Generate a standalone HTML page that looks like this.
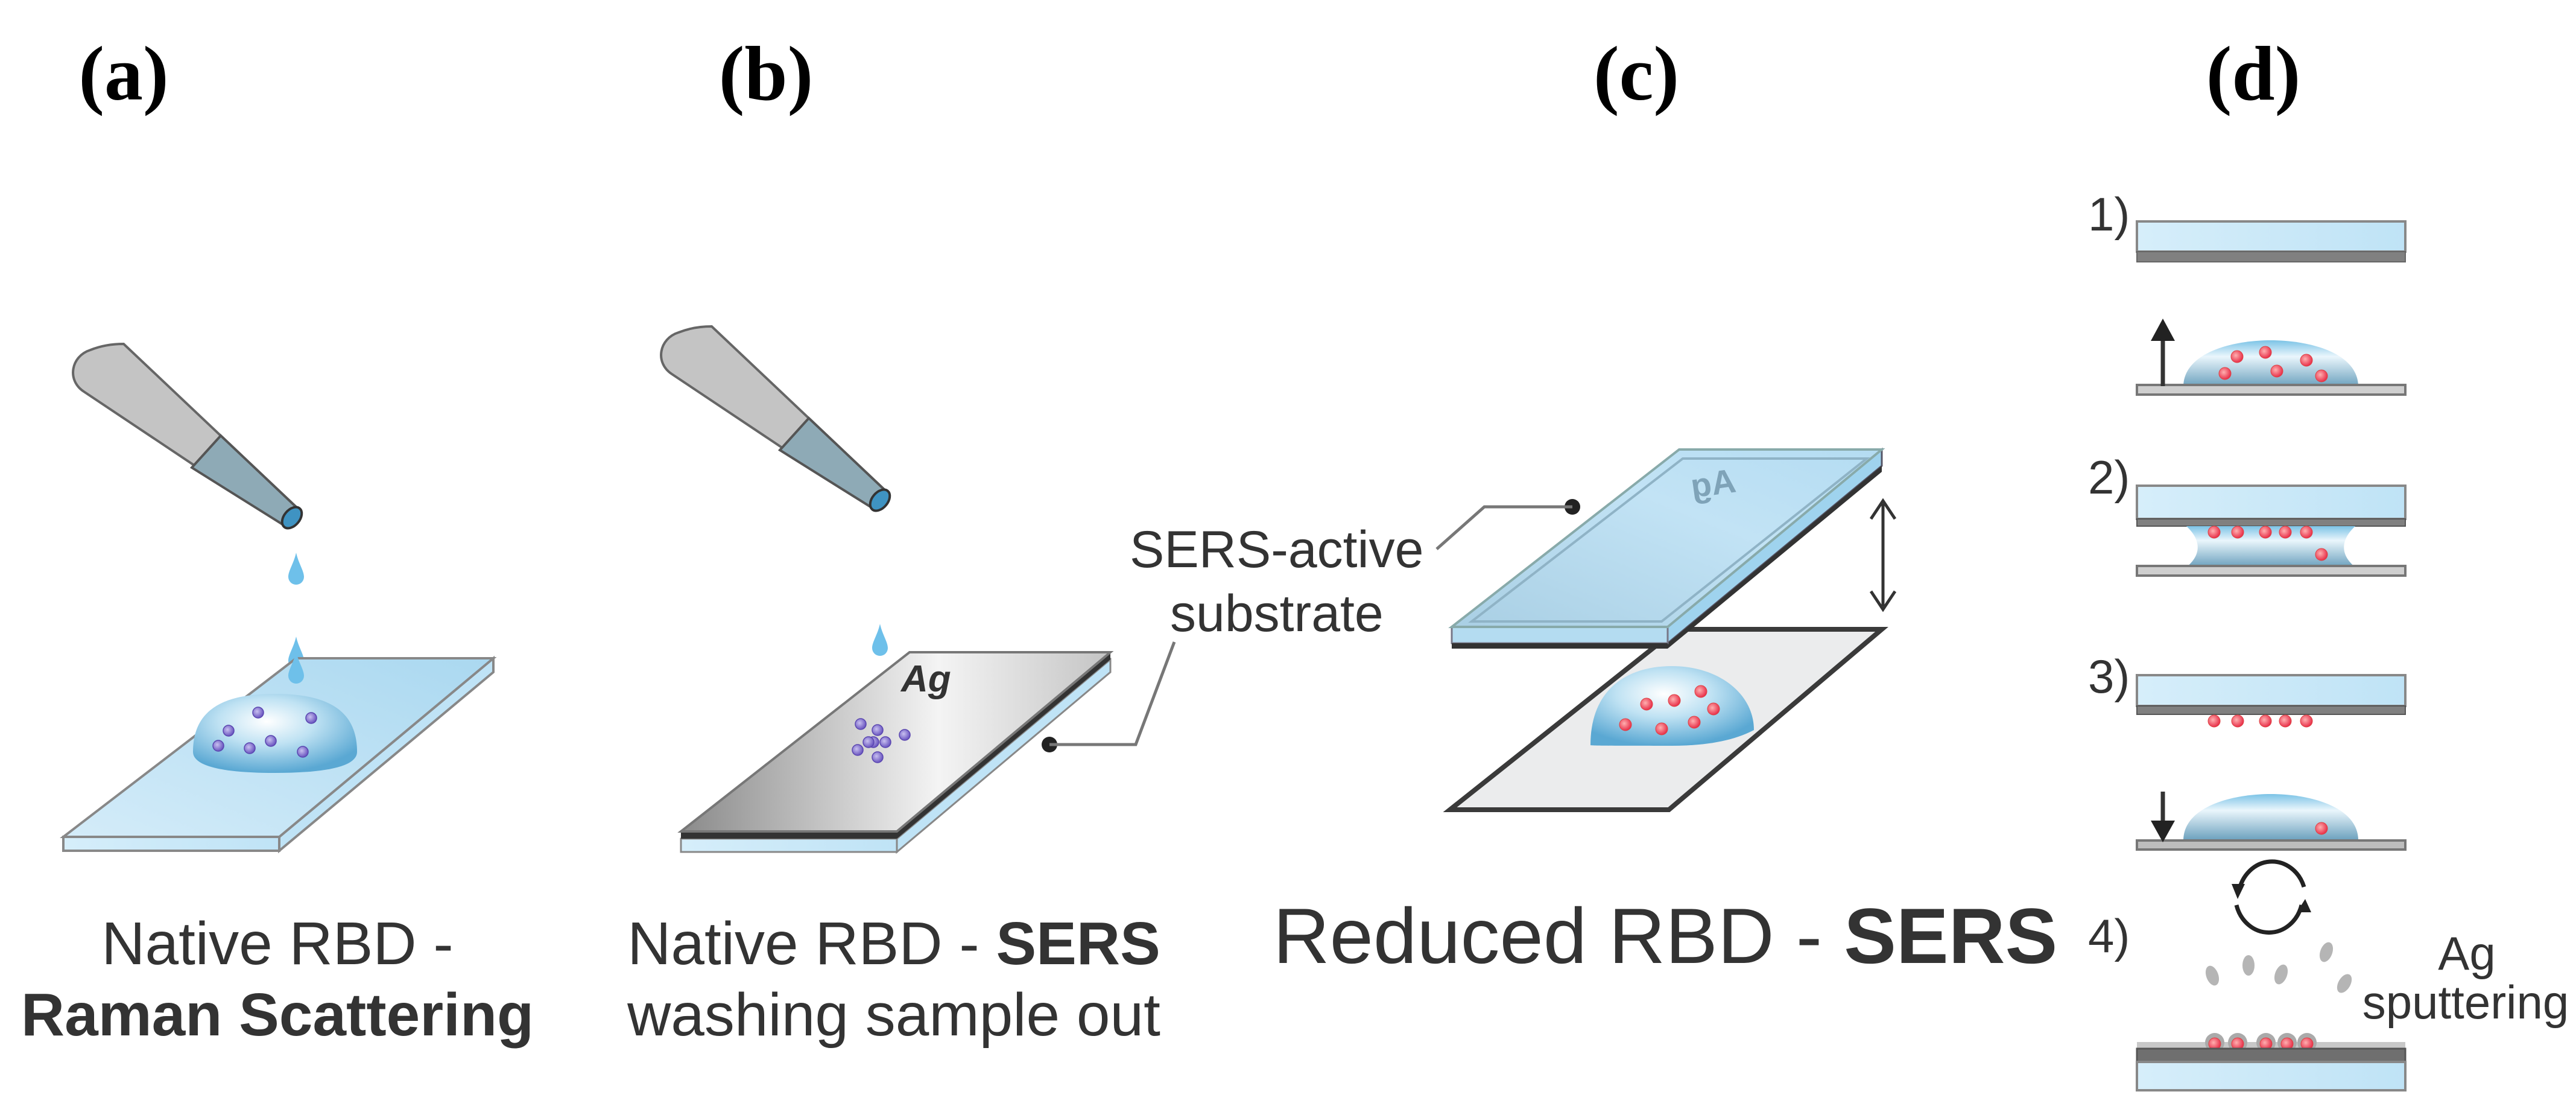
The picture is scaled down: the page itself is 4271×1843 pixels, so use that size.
<!DOCTYPE html>
<html><head><meta charset="utf-8"><style>
html,body{margin:0;padding:0;background:#fff;}
svg{display:block;}
</style></head><body>
<svg width="4271" height="1843" viewBox="0 0 4271 1843" xmlns="http://www.w3.org/2000/svg">
<defs>
<linearGradient id="blueTop" x1="0" y1="1" x2="1" y2="0"><stop offset="0" stop-color="#d4ecf9"/><stop offset="1" stop-color="#aad8f0"/></linearGradient>
<linearGradient id="blueC" x1="0" y1="1" x2="1" y2="0"><stop offset="0" stop-color="#a9cfe4"/><stop offset="0.6" stop-color="#c2e3f5"/><stop offset="1" stop-color="#b4dcf2"/></linearGradient>
<linearGradient id="blueSide" x1="0" y1="0" x2="1" y2="0"><stop offset="0" stop-color="#d6eefa"/><stop offset="1" stop-color="#bfe3f6"/></linearGradient>
<linearGradient id="grayTop" x1="0" y1="0" x2="1" y2="0"><stop offset="0" stop-color="#8a8a8a"/><stop offset="0.6" stop-color="#f4f4f4"/><stop offset="1" stop-color="#c4c4c4"/></linearGradient>
<radialGradient id="dome" cx="0.45" cy="0.35" r="0.65"><stop offset="0" stop-color="#ffffff"/><stop offset="0.45" stop-color="#bfe2f3"/><stop offset="1" stop-color="#5aa8d3"/></radialGradient>
<linearGradient id="domeD" x1="0" y1="0" x2="0" y2="1"><stop offset="0" stop-color="#7cc3e6"/><stop offset="0.35" stop-color="#eaf6fc"/><stop offset="1" stop-color="#6aa0bd"/></linearGradient>
<radialGradient id="red" cx="0.4" cy="0.4" r="0.6"><stop offset="0" stop-color="#ffb0b0"/><stop offset="1" stop-color="#e8304a"/></radialGradient>
<radialGradient id="pur" cx="0.4" cy="0.4" r="0.6"><stop offset="0" stop-color="#c8c0f0"/><stop offset="1" stop-color="#6a55c0"/></radialGradient>
<g id="drip"><path d="M0,-30 C4,-12 13,0 13,10 A13,13 0 0 1 -13,10 C-13,0 -4,-12 0,-30Z" fill="#6ec0ea"/></g>
<g id="rd"><circle r="10" fill="url(#red)" stroke="#d44" stroke-width="1"/></g>
<g id="pd"><circle r="9" fill="url(#pur)" stroke="#5a46b0" stroke-width="1.5"/></g>
<g id="pip">
  <path d="M139,649 C110,630 118,590 150,580 C170,572 190,570 205,570 L495,844 L473,872 Z" fill="#c4c4c4" stroke="#666" stroke-width="4"/>
  <path d="M318,775 L366,722 L495,844 L473,872 Z" fill="#8eaab6" stroke="#555" stroke-width="4"/>
  <ellipse cx="484" cy="858" rx="13" ry="20" transform="rotate(40 484 858)" fill="#3f93c2" stroke="#333" stroke-width="4"/>
</g>
</defs>

<!-- labels -->
<g font-family="Liberation Serif, serif" font-weight="bold" font-size="128" fill="#000" text-anchor="middle">
<text x="205" y="165">(a)</text>
<text x="1270" y="165">(b)</text>
<text x="2713" y="165">(c)</text>
<text x="3736" y="165">(d)</text>
</g>

<!-- Panel a -->
<use href="#pip"/>
<use href="#drip" x="491" y="946"/>
<use href="#drip" x="491" y="1085"/>
<polygon points="463,1387 818,1091 818,1114 463,1410" fill="#bfe3f6" stroke="#888" stroke-width="4"/>
<rect x="105" y="1387" width="358" height="23" fill="url(#blueSide)" stroke="#888" stroke-width="4"/>
<polygon points="105,1387 463,1387 818,1091 491,1091" fill="url(#blueTop)" stroke="#888" stroke-width="4"/>
<path d="M320,1246 C320,1170 380,1150 456,1150 C532,1150 592,1170 592,1246 C592,1275 520,1281 456,1281 C392,1281 320,1275 320,1246Z" fill="url(#dome)"/>
<use href="#drip" x="491" y="1110"/>
<use href="#pd" x="428" y="1181"/><use href="#pd" x="516" y="1190"/><use href="#pd" x="379" y="1211"/><use href="#pd" x="449" y="1228"/><use href="#pd" x="362" y="1236"/><use href="#pd" x="414" y="1240"/><use href="#pd" x="502" y="1246"/>

<!-- Panel b -->
<use href="#pip" x="975" y="-29"/>
<use href="#drip" x="1459" y="1064"/>
<polygon points="1487,1390 1841,1093 1841,1114 1487,1412" fill="#bfe3f6" stroke="#888" stroke-width="3"/>
<rect x="1129" y="1390" width="358" height="22" fill="url(#blueSide)" stroke="#888" stroke-width="3"/>
<polygon points="1129,1378 1487,1378 1841,1081 1841,1093 1487,1390 1129,1390" fill="#333"/>
<polygon points="1129,1378 1487,1378 1841,1081 1508,1081" fill="url(#grayTop)" stroke="#777" stroke-width="4"/>
<text x="1494" y="1146" font-family="Liberation Sans, sans-serif" font-weight="bold" font-style="italic" font-size="62" fill="#333">Ag</text>
<use href="#pd" x="1427" y="1200"/><use href="#pd" x="1455" y="1210"/><use href="#pd" x="1448" y="1230"/><use href="#pd" x="1468" y="1230"/><use href="#pd" x="1500" y="1218"/><use href="#pd" x="1422" y="1243"/><use href="#pd" x="1455" y="1255"/><use href="#pd" x="1440" y="1230"/>
<circle cx="1740" cy="1234" r="13" fill="#222"/>
<polyline points="1740,1234 1883,1234 1947,1064" fill="none" stroke="#777" stroke-width="5"/>
<g font-family="Liberation Sans, sans-serif" font-size="86" fill="#333">
<text x="1873" y="940">SERS-active</text>
<text x="1940" y="1046">substrate</text>
</g>

<!-- Panel c -->
<polygon points="2404,1342 2767,1342 3120,1043 2780,1043" fill="#ebeced" stroke="#3a3a3a" stroke-width="8"/>
<path d="M2637,1235 C2637,1140 2700,1104 2772,1104 C2850,1104 2908,1150 2908,1210 C2870,1230 2820,1236 2772,1236 C2700,1236 2637,1236 2637,1235Z" fill="url(#dome)"/>
<use href="#rd" x="2730" y="1167"/><use href="#rd" x="2776" y="1161"/><use href="#rd" x="2820" y="1146"/><use href="#rd" x="2841" y="1175"/><use href="#rd" x="2695" y="1201"/><use href="#rd" x="2755" y="1208"/><use href="#rd" x="2809" y="1197"/>
<polygon points="2765,1039 3120,745 3120,772 2765,1066" fill="#9fd3ee" stroke="#556" stroke-width="3"/>
<polygon points="2765,1066 3120,772 3120,782 2765,1075" fill="#333"/>
<rect x="2407" y="1039" width="358" height="27" fill="#b4dcf1" stroke="#778" stroke-width="3"/>
<rect x="2407" y="1066" width="358" height="9" fill="#333"/>
<polygon points="2407,1039 2765,1039 3120,745 2784,745" fill="url(#blueC)" stroke="#8aa" stroke-width="4"/>
<polygon points="2440,1030 2755,1030 3095,760 2790,760" fill="none" stroke="#8fb3c6" stroke-width="4"/>
<text x="0" y="0" font-family="Liberation Sans, sans-serif" font-weight="bold" font-size="56" fill="#7fa3b8" transform="translate(2880,815) scale(-1,1) rotate(8)">Ag</text>
<circle cx="2607" cy="840" r="13" fill="#222"/>
<polyline points="2607,840 2461,840 2382,910" fill="none" stroke="#777" stroke-width="5"/>
<line x1="3122" y1="835" x2="3122" y2="1005" stroke="#333" stroke-width="5"/>
<polyline points="3102,860 3122,830 3142,860" fill="none" stroke="#333" stroke-width="5"/>
<polyline points="3102,980 3122,1010 3142,980" fill="none" stroke="#333" stroke-width="5"/>

<!-- Bottom texts -->
<g font-family="Liberation Sans, sans-serif" font-size="100" fill="#333" text-anchor="middle">
<text x="460" y="1598">Native RBD -</text>
<text x="460" y="1716" font-weight="bold">Raman Scattering</text>
<text x="1482" y="1598">Native RBD - <tspan font-weight="bold">SERS</tspan></text>
<text x="1482" y="1716">washing sample out</text>
<text x="2761" y="1596" font-size="130">Reduced RBD - <tspan font-weight="bold">SERS</tspan></text>
</g>

<!-- Panel d -->
<g font-family="Liberation Sans, sans-serif" font-size="78" fill="#333">
<text x="3462" y="382">1)</text>
<text x="3462" y="818">2)</text>
<text x="3462" y="1148">3)</text>
<text x="3462" y="1578">4)</text>
<text x="4090" y="1607" text-anchor="middle">Ag</text>
<text x="4088" y="1688" text-anchor="middle">sputtering</text>
</g>
<!-- 1 -->
<rect x="3543" y="367" width="445" height="50" fill="url(#blueSide)" stroke="#888" stroke-width="4"/>
<rect x="3543" y="417" width="445" height="17" fill="#808080" stroke="#666" stroke-width="2"/>
<path d="M3620,641 C3620,585 3700,564 3765,564 C3830,564 3910,585 3910,641Z" fill="url(#domeD)"/>
<rect x="3543" y="638" width="445" height="16" fill="#cfcfcf" stroke="#777" stroke-width="4"/>
<use href="#rd" x="3709" y="591"/><use href="#rd" x="3756" y="584"/><use href="#rd" x="3824" y="597"/><use href="#rd" x="3689" y="619"/><use href="#rd" x="3775" y="615"/><use href="#rd" x="3849" y="623"/>
<line x1="3586" y1="640" x2="3586" y2="555" stroke="#333" stroke-width="7"/>
<polygon points="3586,528 3566,565 3606,565" fill="#222"/>
<!-- 2 -->
<rect x="3543" y="805" width="445" height="55" fill="url(#blueSide)" stroke="#888" stroke-width="4"/>
<rect x="3543" y="860" width="445" height="12" fill="#808080" stroke="#555" stroke-width="2"/>
<path d="M3625,872 L3905,872 C3880,895 3880,920 3905,940 L3625,940 C3650,920 3650,895 3625,872Z" fill="url(#domeD)"/>
<rect x="3543" y="938" width="445" height="16" fill="#cfcfcf" stroke="#777" stroke-width="4"/>
<use href="#rd" x="3671" y="882"/><use href="#rd" x="3710" y="882"/><use href="#rd" x="3756" y="882"/><use href="#rd" x="3789" y="882"/><use href="#rd" x="3824" y="882"/><use href="#rd" x="3849" y="919"/>
<!-- 3 -->
<rect x="3543" y="1119" width="445" height="51" fill="url(#blueSide)" stroke="#888" stroke-width="4"/>
<rect x="3543" y="1170" width="445" height="14" fill="#808080" stroke="#555" stroke-width="2"/>
<use href="#rd" x="3671" y="1195"/><use href="#rd" x="3710" y="1195"/><use href="#rd" x="3756" y="1195"/><use href="#rd" x="3789" y="1195"/><use href="#rd" x="3824" y="1195"/>
<path d="M3620,1393 C3620,1337 3700,1316 3765,1316 C3830,1316 3910,1337 3910,1393Z" fill="url(#domeD)"/>
<rect x="3543" y="1393" width="445" height="15" fill="#bdbdbd" stroke="#777" stroke-width="4"/>
<use href="#rd" x="3849" y="1373"/>
<line x1="3586" y1="1312" x2="3586" y2="1375" stroke="#333" stroke-width="7"/>
<polygon points="3586,1396 3566,1360 3606,1360" fill="#222"/>
<!-- cycle -->
<path d="M3712,1478 A56,62 0 0 1 3820,1470" fill="none" stroke="#222" stroke-width="7"/>
<path d="M3816,1500 A56,62 0 0 1 3708,1500" fill="none" stroke="#222" stroke-width="7"/>
<polygon points="3700,1465 3722,1465 3710,1490" fill="#222"/>
<polygon points="3822,1490 3832,1512 3808,1512" fill="#222"/>
<!-- sputter drops -->
<g fill="#b5b5b5">
<ellipse cx="3668" cy="1617" rx="10" ry="17" transform="rotate(-20 3668 1617)"/>
<ellipse cx="3728" cy="1600" rx="10" ry="17"/>
<ellipse cx="3782" cy="1615" rx="10" ry="17" transform="rotate(20 3782 1615)"/>
<ellipse cx="3857" cy="1578" rx="10" ry="17" transform="rotate(20 3857 1578)"/>
<ellipse cx="3887" cy="1630" rx="10" ry="17" transform="rotate(30 3887 1630)"/>
</g>
<!-- 4 bottom slide -->
<rect x="3543" y="1727" width="445" height="12" fill="#c8c8c8"/>
<g fill="#aaa"><circle cx="3672" cy="1728" r="16"/><circle cx="3710" cy="1728" r="16"/><circle cx="3757" cy="1728" r="16"/><circle cx="3792" cy="1728" r="16"/><circle cx="3825" cy="1728" r="16"/></g>
<use href="#rd" x="3672" y="1730"/><use href="#rd" x="3710" y="1730"/><use href="#rd" x="3757" y="1730"/><use href="#rd" x="3792" y="1730"/><use href="#rd" x="3825" y="1730"/>
<rect x="3543" y="1738" width="445" height="22" fill="#6f6f6f" stroke="#555" stroke-width="3"/>
<rect x="3543" y="1760" width="445" height="47" fill="url(#blueSide)" stroke="#888" stroke-width="4"/>
</svg>
</body></html>
